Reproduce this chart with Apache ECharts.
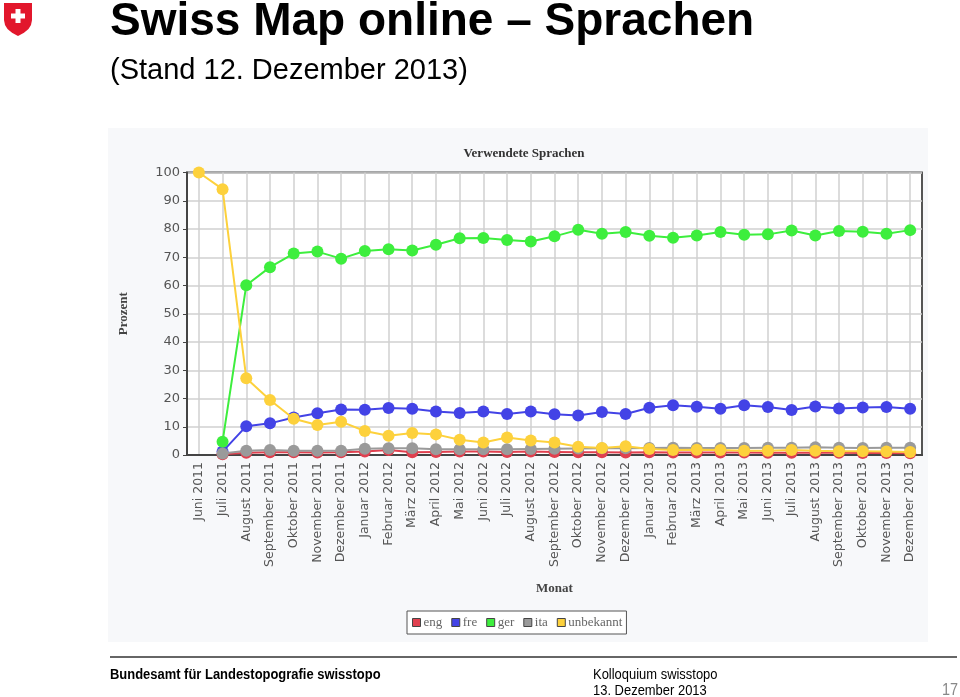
<!DOCTYPE html>
<html>
<head>
<meta charset="utf-8">
<script src="https://cdn.jsdelivr.net/npm/echarts@6/dist/echarts.min.js"></script>
<style>html,body{margin:0;padding:0;background:#fff}#c{width:960px;height:697px}</style>
</head>
<body>
<div id="c"></div>
<script>
const months = ['Juni 2011','Juli 2011','August 2011','September 2011','Oktober 2011','November 2011','Dezember 2011',
  'Januar 2012','Februar 2012','März 2012','April 2012','Mai 2012','Juni 2012','Juli 2012','August 2012','September 2012',
  'Oktober 2012','November 2012','Dezember 2012','Januar 2013','Februar 2013','März 2013','April 2013','Mai 2013',
  'Juni 2013','Juli 2013','August 2013','September 2013','Oktober 2013','November 2013','Dezember 2013'];
const eng = [null,0.3,0.8,1.0,1.0,0.9,1.0,1.2,1.8,1.0,1.1,1.2,1.2,1.1,1.2,1.1,1.0,1.0,0.9,1.0,0.9,0.9,0.9,0.9,0.8,0.8,0.8,0.8,0.7,0.7,0.6];
const fre = [null,1.2,10.2,11.2,13.3,14.8,16.1,16.0,16.6,16.4,15.4,14.9,15.4,14.5,15.4,14.4,14.0,15.2,14.5,16.7,17.6,17.1,16.4,17.6,17.0,15.9,17.2,16.5,16.8,17.0,16.4];
const ger = [null,4.7,60.1,66.5,71.3,72.0,69.5,72.2,72.8,72.4,74.4,76.7,76.8,76.1,75.6,77.4,79.7,78.3,78.9,77.6,76.9,77.7,78.9,78.0,78.1,79.5,77.7,79.3,79.0,78.3,79.6];
const ita = [null,0.5,1.5,1.8,1.5,1.5,1.5,2.2,2.4,2.4,2.0,2.0,2.0,2.0,2.1,2.2,2.3,2.4,2.4,2.5,2.6,2.5,2.5,2.5,2.6,2.6,2.7,2.6,2.5,2.6,2.6];
const unbekannt = [100,94.1,27.2,19.5,12.8,10.6,11.8,8.5,6.8,7.8,7.3,5.4,4.4,6.2,5.1,4.4,2.9,2.5,3.1,2.1,1.8,1.9,1.8,1.5,1.5,1.8,1.5,1.3,1.3,1.2,1.1];
const seriesNames = ['eng','fre','ger','ita','unbekannt'];
const seriesData = [eng, fre, ger, ita, unbekannt];
const seriesColors = ['#e0404f','#4343e6','#3dee3d','#9a9a9a','#fdd13c'];
const yTicks = [0,10,20,30,40,50,60,70,80,90,100];

const chart = echarts.init(document.getElementById('c'));
const serif = "'Liberation Serif','Times New Roman',serif";
const narrow = "'Liberation Sans Narrow','Arial Narrow','Liberation Sans',sans-serif";
chart.setOption({
  animation: false,
  backgroundColor: '#ffffff',
  color: seriesColors,
  title: [{
    text: 'Verwendete Sprachen', left: 519, top: 142, textAlign: 'center',
    textStyle: {fontFamily: serif, fontWeight: 'bold', fontSize: 13, color: '#333'}
  }],
  legend: {
    data: seriesNames, left: 407, top: 611, icon: 'rect', itemWidth: 8, itemHeight: 8, itemGap: 9,
    padding: [5, 4, 5, 5], borderColor: '#555', borderWidth: 1, backgroundColor: '#fff',
    itemStyle: {borderColor: '#444', borderWidth: 1},
    textStyle: {fontFamily: serif, fontSize: 13, color: '#666', padding: [0, 0, 0, -2]}
  },
  grid: {left: 187, right: 38, top: 172.5, bottom: 242, show: true, backgroundColor: '#fff', borderColor: '#555', borderWidth: 2},
  xAxis: {
    type: 'category', data: months, boundaryGap: true,
    name: 'Monat', nameLocation: 'middle', nameGap: 127,
    nameTextStyle: {fontFamily: serif, fontWeight: 'bold', fontSize: 13, color: '#444'},
    axisLine: {lineStyle: {color: '#444', width: 2}},
    axisTick: {alignWithLabel: true, length: 5, lineStyle: {color: '#444'}},
    axisLabel: {rotate: 90, interval: 0, fontFamily: 'DejaVu Sans', fontSize: 12.5, color: '#555', margin: 7},
    splitLine: {show: true, alignWithLabel: true, interval: 0, lineStyle: {color: '#d0d0d0', width: 1.5}}
  },
  yAxis: {
    type: 'value', min: 0, max: 100, interval: 10,
    name: 'Prozent', nameLocation: 'middle', nameGap: 57, nameRotate: 90,
    nameTextStyle: {fontFamily: serif, fontWeight: 'bold', fontSize: 13, color: '#444'},
    axisLine: {show: true, lineStyle: {color: '#444', width: 2}},
    axisTick: {show: true, length: 4, lineStyle: {color: '#444'}},
    axisLabel: {fontFamily: 'DejaVu Sans', fontSize: 13, color: '#555', margin: 7,
      formatter: v => yTicks.includes(v) ? String(v) : ''},
    splitLine: {lineStyle: {color: '#d0d0d0', width: 1.5}}
  },
  series: seriesNames.map((n, i) => ({
    name: n, type: 'line', data: seriesData[i], symbol: 'circle', symbolSize: 12,
    lineStyle: {width: 2, color: seriesColors[i]}, itemStyle: {color: seriesColors[i]}, z: 2 + i
  })),
  graphic: [
    {type: 'rect', z: -10, shape: {x: 108, y: 128, width: 820, height: 514}, style: {fill: '#f7f8fa'}},
    {type: 'polygon', shape: {points: [[4,3],[32,3],[32,20],[31,25],[28.5,29],[24,32.8],[18,36],[12,32.8],[7.5,29],[5,25],[4,20]]}, style: {fill: '#e2172c'}},
    {type: 'rect', shape: {x: 15.5, y: 9, width: 5, height: 14}, style: {fill: '#fff'}},
    {type: 'rect', shape: {x: 11, y: 13.5, width: 14, height: 5}, style: {fill: '#fff'}},
    {type: 'text', x: 110, y: -1, style: {text: 'Swiss Map online – Sprachen', fill: '#000',
      font: "bold 46px 'Liberation Sans', Arial, sans-serif"}},
    {type: 'text', x: 110, y: 56, style: {text: '(Stand 12. Dezember 2013)', fill: '#000',
      font: "29px 'Liberation Sans', Arial, sans-serif"}},
    {type: 'line', shape: {x1: 110, y1: 657, x2: 957, y2: 657}, style: {stroke: '#666', lineWidth: 2}},
    {type: 'text', x: 110, y: 668, scaleX: 0.925, style: {text: 'Bundesamt für Landestopografie swisstopo', fill: '#000',
      font: "bold 14px " + narrow}},
    {type: 'text', x: 593, y: 668, scaleX: 0.925, style: {text: 'Kolloquium swisstopo', fill: '#000',
      font: "14px " + narrow}},
    {type: 'text', x: 593, y: 684, scaleX: 0.925, style: {text: '13. Dezember 2013', fill: '#000',
      font: "14px " + narrow}},
    {type: 'text', x: 942, y: 682, scaleX: 0.85, style: {text: '17', fill: '#888',
      font: "17px " + narrow}}
  ]
});
</script>
</body>
</html>
